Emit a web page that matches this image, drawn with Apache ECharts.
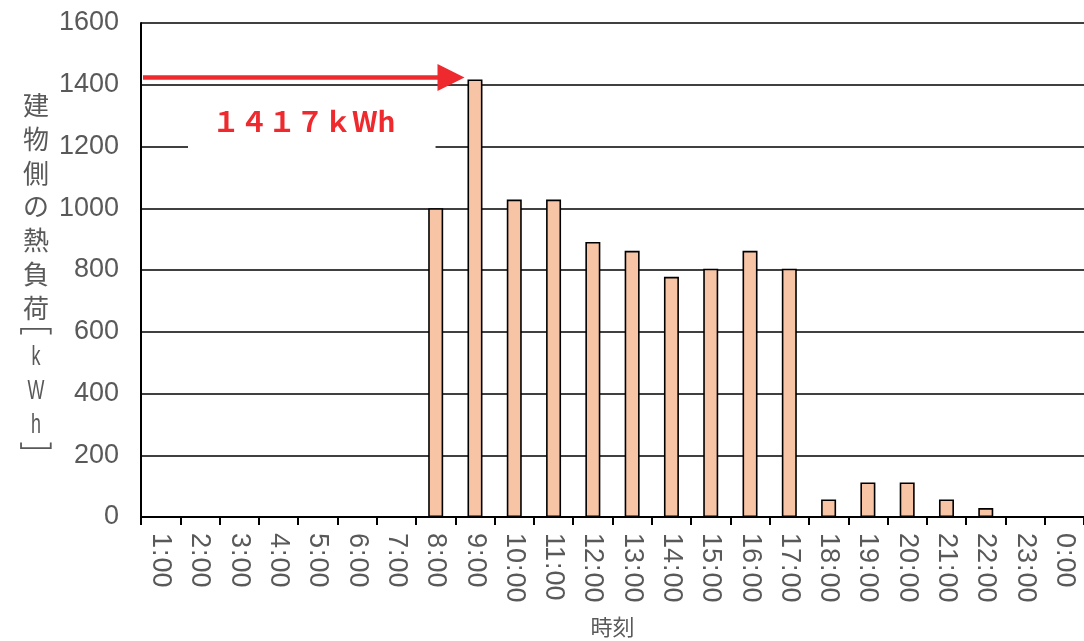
<!DOCTYPE html>
<html>
<head>
<meta charset="utf-8">
<script src="https://cdn.jsdelivr.net/npm/echarts@6/dist/echarts.min.js"></script>
<style>
  html, body { margin: 0; padding: 0; background: #ffffff; }
  #chart { width: 1084px; height: 641px; }
</style>
</head>
<body>
<div id="chart"></div>
<script>
// Hourly building-side heat load [kWh]
const hours = ['1:00', '2:00', '3:00', '4:00', '5:00', '6:00', '7:00', '8:00', '9:00', '10:00',
  '11:00', '12:00', '13:00', '14:00', '15:00', '16:00', '17:00', '18:00', '19:00', '20:00',
  '21:00', '22:00', '23:00', '0:00'];
const heatLoad = [0, 0, 0, 0, 0, 0, 0, 1000, 1417, 1028,
  1028, 891, 862, 778, 804, 862, 804, 57, 112, 112,
  57, 29, 0, 0];
const yMin = 0;
const yMax = 1600;
const yStep = 200;

// Vertical axis title pieces: quantity, unit, and the vertical-form brackets around the unit
const yTitleWords = ['建', '物', '側', 'の', '熱', '負', '荷'];
const yTitleUnit = ['k', 'W', 'h'];
const yTitleBrackets = ['﹇', '﹈'];
const xAxisTitle = '時刻';

const GRAY = '#595959';
const RED = '#EE2A2E';
const NUM_FONT = '"Liberation Sans", Arial, sans-serif';
const CJK_FONT = '"Noto Sans CJK JP", "Noto Sans", sans-serif';

// Peak hour and its label in full-width digits
const peakValue = Math.max(...heatLoad);
const peakIndex = heatLoad.indexOf(peakValue);
const toFullWidth = s => String(s).replace(/[0-9]/g, d => String.fromCharCode(d.charCodeAt(0) + 0xFEE0));
const peakLabel = toFullWidth(peakValue) + 'ｋWh';

const chart = echarts.init(document.getElementById('chart'), null, { renderer: 'canvas' });

const option = {
  animation: false,
  backgroundColor: '#ffffff',
  grid: { left: 141, right: 0, top: 23, bottom: 124, containLabel: false, outerBoundsMode: 'none' },
  xAxis: {
    type: 'category',
    data: hours,
    boundaryGap: true,
    name: xAxisTitle,
    nameLocation: 'middle',
    nameGap: 99,
    nameTextStyle: { color: GRAY, fontSize: 22, fontFamily: CJK_FONT },
    axisLine: { show: true, lineStyle: { color: '#000', width: 2 } },
    axisTick: { show: true, alignWithLabel: false, length: 8, lineStyle: { color: '#000', width: 2 } },
    axisLabel: {
      rotate: -90,
      interval: 0,
      margin: 16,
      color: GRAY,
      fontSize: 27,
      fontFamily: NUM_FONT,
      formatter: v => {
        const [h, m] = v.split(':');
        return h + '{c|:}' + m;
      },
      rich: {
        c: { fontSize: 27, fontFamily: NUM_FONT, color: GRAY, padding: [0, 1, 0, 1] }
      }
    },
    splitLine: { show: false }
  },
  yAxis: {
    type: 'value',
    min: yMin,
    max: yMax,
    interval: yStep,
    axisLine: { show: true, lineStyle: { color: '#000', width: 2 } },
    axisTick: { show: false },
    axisLabel: { color: GRAY, fontSize: 27, fontFamily: NUM_FONT, margin: 22, formatter: v => String(v) },
    splitLine: { show: true, lineStyle: { color: '#000', width: 1.5 } }
  },
  series: [{
    type: 'bar',
    data: heatLoad,
    barWidth: 15,
    itemStyle: { color: '#F8C4A6', borderColor: '#000', borderWidth: 1.6 },
    z: 3
  }]
};

chart.setOption(option);

// Annotation: arrow from the value axis to the peak bar, and its value label
const tip = chart.convertToPixel({ gridIndex: 0 }, [peakIndex, peakValue]);
const firstCat = chart.convertToPixel({ gridIndex: 0 }, [0, 0]);
const catWidth = chart.convertToPixel({ gridIndex: 0 }, [1, 0])[0] - firstCat[0];
const barLeft = tip[0] - 8.5;
const arrowY = tip[1] - 2;
const headLen = 27;
const headHalf = 13.5;
const axisX = firstCat[0] - catWidth / 2;

const titleX = 36;

chart.setOption({
  graphic: [
    {
      type: 'text',
      x: titleX,
      y: 206.5,
      style: {
        text: yTitleWords.join('\n'),
        fill: GRAY,
        font: '26px ' + CJK_FONT,
        lineHeight: 33.8,
        align: 'center',
        verticalAlign: 'middle'
      },
      z: 10
    },
    {
      type: 'text',
      x: titleX,
      y: 322,
      scaleX: 1.3,
      style: {
        text: yTitleBrackets[0],
        fill: GRAY,
        font: '26px ' + CJK_FONT,
        align: 'center',
        verticalAlign: 'middle'
      },
      z: 10
    },
    {
      type: 'text',
      x: titleX,
      y: 391,
      scaleX: 0.64,
      style: {
        text: yTitleUnit.join('\n'),
        fill: GRAY,
        font: '28px ' + NUM_FONT,
        lineHeight: 34,
        align: 'center',
        verticalAlign: 'middle'
      },
      z: 10
    },
    {
      type: 'text',
      x: titleX,
      y: 455,
      scaleX: 1.3,
      style: {
        text: yTitleBrackets[1],
        fill: GRAY,
        font: '26px ' + CJK_FONT,
        align: 'center',
        verticalAlign: 'middle'
      },
      z: 10
    },
    {
      type: 'line',
      shape: { x1: axisX + 2, y1: arrowY, x2: barLeft - headLen, y2: arrowY },
      style: { stroke: RED, lineWidth: 4.5 },
      z: 20
    },
    {
      type: 'polygon',
      shape: { points: [[barLeft - 2, arrowY], [barLeft - 2 - headLen, arrowY - headHalf], [barLeft - 2 - headLen, arrowY + headHalf]] },
      style: { fill: RED },
      z: 20
    },
    {
      type: 'text',
      x: 188,
      y: 95,
      style: {
        text: peakLabel,
        fill: RED,
        font: 'bold 28px ' + CJK_FONT,
        backgroundColor: '#ffffff',
        padding: [12, 40, 18, 24]
      },
      z: 15
    }
  ]
});
</script>
</body>
</html>
